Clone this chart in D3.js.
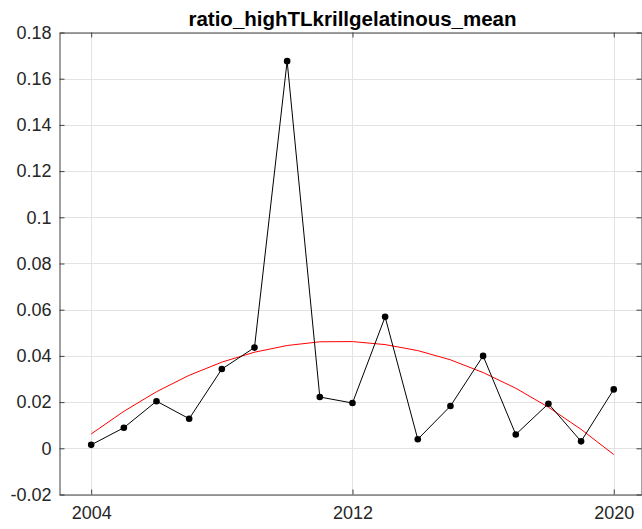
<!DOCTYPE html>
<html>
<head>
<meta charset="utf-8">
<script src="https://cdn.jsdelivr.net/npm/d3@7"></script>
<style>
  html, body { margin: 0; padding: 0; background: #fff; }
  svg { display: block; }
</style>
</head>
<body>
<svg id="chart" width="642" height="529"></svg>
<script>
const title = "ratio_highTLkrillgelatinous_mean";
const years = [2004, 2005, 2006, 2007, 2008, 2009, 2010, 2011, 2012, 2013, 2014, 2015, 2016, 2017, 2018, 2019, 2020];
const ratioValues = [0.0015, 0.0089, 0.0204, 0.0128, 0.0343, 0.0436, 0.1676, 0.0222, 0.0196, 0.0569, 0.0039, 0.0183, 0.0400, 0.0060, 0.0193, 0.0030, 0.0255];
const trendValues = [0.0062, 0.0160, 0.0245, 0.0316, 0.0373, 0.0416, 0.0445, 0.0461, 0.0462, 0.0449, 0.0423, 0.0383, 0.0328, 0.0260, 0.0178, 0.0082, -0.0027];
const xTicks = [2004, 2012, 2020];
const yTicks = [-0.02, 0, 0.02, 0.04, 0.06, 0.08, 0.1, 0.12, 0.14, 0.16, 0.18];
const xDomain = [2003.03, 2020.85];
const yDomain = [-0.02, 0.18];

(function () {
const svg = d3.select("#chart");
const mLeft = 59.5, mRight = 641.5, mTop = 32.5, mBottom = 494.5;

const x = d3.scaleLinear().domain(xDomain).range([mLeft, mRight]);
const y = d3.scaleLinear().domain(yDomain).range([mBottom, mTop]);

const font = "'Liberation Sans', Arial, Helvetica, sans-serif";
const textColor = "#262626";
const axisColor = "#404040";

// grid
const g = svg.append("g");
g.selectAll("line.gy").data(yTicks).join("line")
  .attr("x1", mLeft).attr("x2", mRight)
  .attr("y1", d => Math.round(y(d)) + 0.5).attr("y2", d => Math.round(y(d)) + 0.5)
  .attr("stroke", "#e3e3e3").attr("stroke-width", 1);
g.selectAll("line.gx").data(xTicks).join("line")
  .attr("y1", mTop).attr("y2", mBottom)
  .attr("x1", d => Math.round(x(d)) + 0.5).attr("x2", d => Math.round(x(d)) + 0.5)
  .attr("stroke", "#e3e3e3").attr("stroke-width", 1);

// axes
const fmtY = d => String(+d.toFixed(2));
const yAxisL = d3.axisLeft(y).tickValues(yTicks).tickSizeInner(-5).tickSizeOuter(0).tickPadding(8).tickFormat(fmtY);
const yAxisR = d3.axisRight(y).tickValues(yTicks).tickSizeInner(-5).tickSizeOuter(0).tickFormat("");
const xAxisB = d3.axisBottom(x).tickValues(xTicks).tickSizeInner(-5).tickSizeOuter(0).tickPadding(12).tickFormat(d3.format("d"));
const xAxisT = d3.axisTop(x).tickValues(xTicks).tickSizeInner(-5).tickSizeOuter(0).tickFormat("");

function styleAxis(sel) {
  sel.select(".domain").attr("stroke", axisColor).attr("stroke-width", 1);
  sel.selectAll(".tick line").attr("stroke", axisColor);
  sel.selectAll("text").attr("fill", textColor).style("font-family", font).style("font-size", "18px");
}

svg.append("g").attr("transform", `translate(${mLeft},0)`).call(yAxisL).call(styleAxis);
svg.append("g").attr("transform", `translate(${mRight},0)`).call(yAxisR).call(styleAxis);
svg.append("g").attr("transform", `translate(0,${mBottom})`).call(xAxisB).call(styleAxis);
svg.append("g").attr("transform", `translate(0,${mTop})`).call(xAxisT).call(styleAxis);

// trend line
const line = d3.line().x((d, i) => x(years[i])).y(d => y(d));
svg.append("path").datum(trendValues)
  .attr("d", line).attr("fill", "none").attr("stroke", "#ff0000").attr("stroke-width", 1);

// data line
svg.append("path").datum(ratioValues)
  .attr("d", line).attr("fill", "none").attr("stroke", "#000").attr("stroke-width", 1);

svg.selectAll("circle.pt").data(ratioValues).join("circle")
  .attr("cx", (d, i) => x(years[i])).attr("cy", d => y(d)).attr("r", 3.3)
  .attr("fill", "#000");

// title
svg.append("text")
  .attr("x", 352.5).attr("y", 26)
  .attr("text-anchor", "middle")
  .attr("fill", "#000")
  .style("font-family", font).style("font-size", "20.5px").style("font-weight", "bold")
  .text(title);
})();
</script>
</body>
</html>
